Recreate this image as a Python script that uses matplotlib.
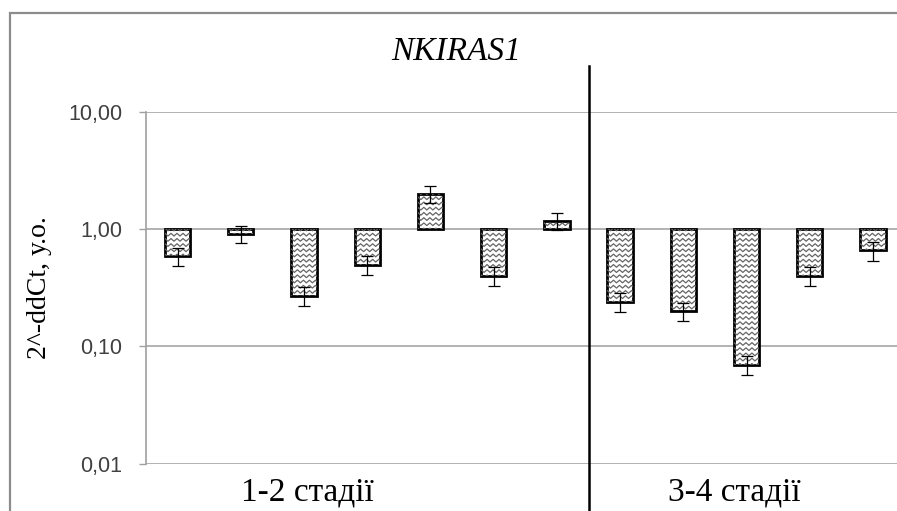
import numpy as np
import matplotlib
matplotlib.use('Agg')
import matplotlib.pyplot as plt
from matplotlib.patches import Rectangle

# values (log axis, bars grow from 1)
samples = list(range(12))
vals = [0.59, 0.91, 0.27, 0.50, 2.00, 0.40, 1.18, 0.24, 0.20, 0.07, 0.40, 0.66]
errs = [0.10, 0.15, 0.05, 0.09, 0.33, 0.075, 0.20, 0.045, 0.035, 0.013, 0.075, 0.12]
yticks = [0.01, 0.1, 1, 10]
ytick_labels = ['0,01', '0,10', '1,00', '10,00']
groups = ['1-2 стадії', '3-4 стадії']
group_pos = [2.05, 8.8]
split = 6.5

W, H = 897, 511
fig = plt.figure(figsize=(W / 100, H / 100), dpi=100)

# outer chart border (cropped on right and bottom)
fig.patches.append(Rectangle((10 / W, -0.1), 1.2, (H - 13) / H + 0.1,
                             transform=fig.transFigure, fill=False,
                             ec='#8c8c8c', lw=1.6))

ax = fig.add_axes([146 / W, 47.3 / H, 758.6 / W, 351.7 / H])
ax.set_yscale('log')
ax.set_ylim(0.01, 10)
ax.set_xlim(-0.5, 11.5)

heights = [v - 1 for v in vals]
bars = ax.bar(samples, heights, bottom=1, width=0.4, color='white',
              edgecolor='black', linewidth=2.0, zorder=3)
ax.errorbar(samples, vals, yerr=errs, fmt='none', ecolor='black',
            elinewidth=0.9, capsize=4, capthick=0.9, zorder=4)

# wavy hatch drawn inside each bar
period = 0.095
step = 0.0148
amp = 0.0038
trans = ax.get_xaxis_transform()
for b in bars:
    x0 = b.get_x() - period
    x1 = b.get_x() + b.get_width() + period
    xs = np.arange(x0, x1, period / 2)
    zz = np.where(np.arange(len(xs)) % 2 == 0, amp, -amp)
    px, py = [], []
    for r in np.arange(0, 1, step):
        px += list(xs) + [np.nan]
        py += list(r + zz) + [np.nan]
    ln, = ax.plot(px, py, transform=trans, color='#666666', lw=0.9, zorder=3.5)
    ln.set_clip_path(b)

ax.set_yticks(yticks)
ax.set_yticklabels(ytick_labels, fontsize=15.5, family='Liberation Sans',
                   color='#404040')
ax.yaxis.set_minor_locator(matplotlib.ticker.NullLocator())
ax.set_xticks([])
ax.tick_params(axis='y', length=5, width=1, color='#a0a0a0', pad=12)
ax.grid(axis='y', color='#a6a6a6', lw=1.2, zorder=0)
for s in ['top', 'right', 'bottom']:
    ax.spines[s].set_visible(False)
ax.spines['left'].set_color('#a0a0a0')
ax.spines['left'].set_linewidth(1.2)

ax.set_ylabel('2^-ddCt, у.о.', family='Liberation Serif', fontsize=20)
ax.yaxis.set_label_coords(-0.124, 0.5)

fig.text(456 / W, 1 - 52 / H, 'NKIRAS1', family='Liberation Serif',
         style='italic', fontsize=24, ha='center', va='center')

# separator between stage groups
ax.axvline(split, ymin=-0.2, ymax=1.131, color='black', lw=1.8,
           clip_on=False, zorder=5)

for g, p in zip(groups, group_pos):
    ax.text(p, -0.082, g, transform=trans, ha='center', va='center',
            family='Liberation Serif', fontsize=24)

fig.savefig('out.png', dpi=100)
